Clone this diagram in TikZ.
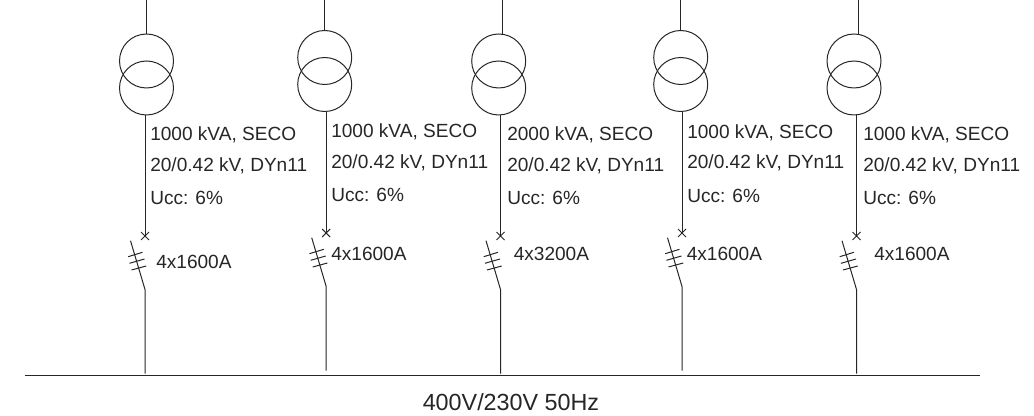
\documentclass[tikz,border=0pt]{standalone}
\usepackage{fontspec}
\setmainfont{Liberation Sans}
\tikzset{x=0.75pt,y=-0.75pt,
 wire/.style={draw=black!85,line width=0.75pt},
 winding/.style={circle,draw=black!85,line width=0.75pt,minimum size=40.5pt,inner sep=0pt},
 lab/.style={anchor=base west,inner sep=0pt,font=\fontsize{14.3}{16}\selectfont,text=black!85}}
% id, xtop, xcircle, ycircle, xlow, ycross, text x, ytext, kVA
\newcommand{\feeder}[9]{%
 \coordinate (t#1) at (#2,0);
 \node[winding] (a#1) at (#3,#4) {};
 \node[winding] (b#1) at (#3,#4+27) {};
 \coordinate (m#1) at (#5,#4+54);
 \coordinate (c#1) at (#5,#6);
 \coordinate (bl#1) at (#5-14.5,#6+4.7);
 \coordinate (br#1) at (#5,#6+53.5);
 \coordinate (e#1) at (#5,#6+137.5);
 \draw[wire] (t#1) -- (#2,#4-27);
 \draw[wire] (m#1) -- (c#1);
 \draw[wire] ([shift={(-4,-4)}]c#1) -- ([shift={(4,4)}]c#1) ([shift={(4,-4)}]c#1) -- ([shift={(-4,4)}]c#1);
 \draw[wire] (bl#1) -- (br#1) -- (e#1);
 \draw[wire] (#5-16.8,#6+20.7) -- (#5-2.5,#6+16.3) (#5-15.5,#6+27.3) -- (#5-0.5,#6+23) (#5-13.5,#6+34) -- (#5+1.2,#6+30);
 \node[lab] (p#1) at (#7,#8) {#9 kVA, SECO};
 \node[lab] (q#1) at (#7,#8+30.5) {20/0.42 kV, DYn11};
 \node[lab] (r#1) at (#7,#8+64) {Ucc: 6\%};
}
\begin{document}
\begin{tikzpicture}
\useasboundingbox (0,0) rectangle (1034,416);
\feeder{1}{146.7}{146.5}{61}{145}{236}{150}{141}{1000}
\feeder{2}{324.5}{324.7}{57.5}{326.2}{233}{331}{138}{1000}
\feeder{3}{502}{498.7}{61}{500.5}{236}{507}{141}{2000}
\feeder{4}{680.7}{680.7}{57.5}{682}{233}{687}{138.5}{1000}
\feeder{5}{858}{854}{61}{856.5}{236}{863}{141}{1000}
\node[lab] (s1) at (156,269) {4x1600A};
\node[lab] (s2) at (331,261) {4x1600A};
\node[lab] (s3) at (513.5,261) {4x3200A};
\node[lab] (s4) at (686.5,261) {4x1600A};
\node[lab] (s5) at (874,261) {4x1600A};
\coordinate (bl) at (25,375.7);
\coordinate (br) at (979.7,375.7);
\draw[wire] (bl) -- (br);
\node[lab,font=\fontsize{17.5}{20}\selectfont] (v) at (422.5,410) {400V/230V 50Hz};
\end{tikzpicture}
\end{document}
